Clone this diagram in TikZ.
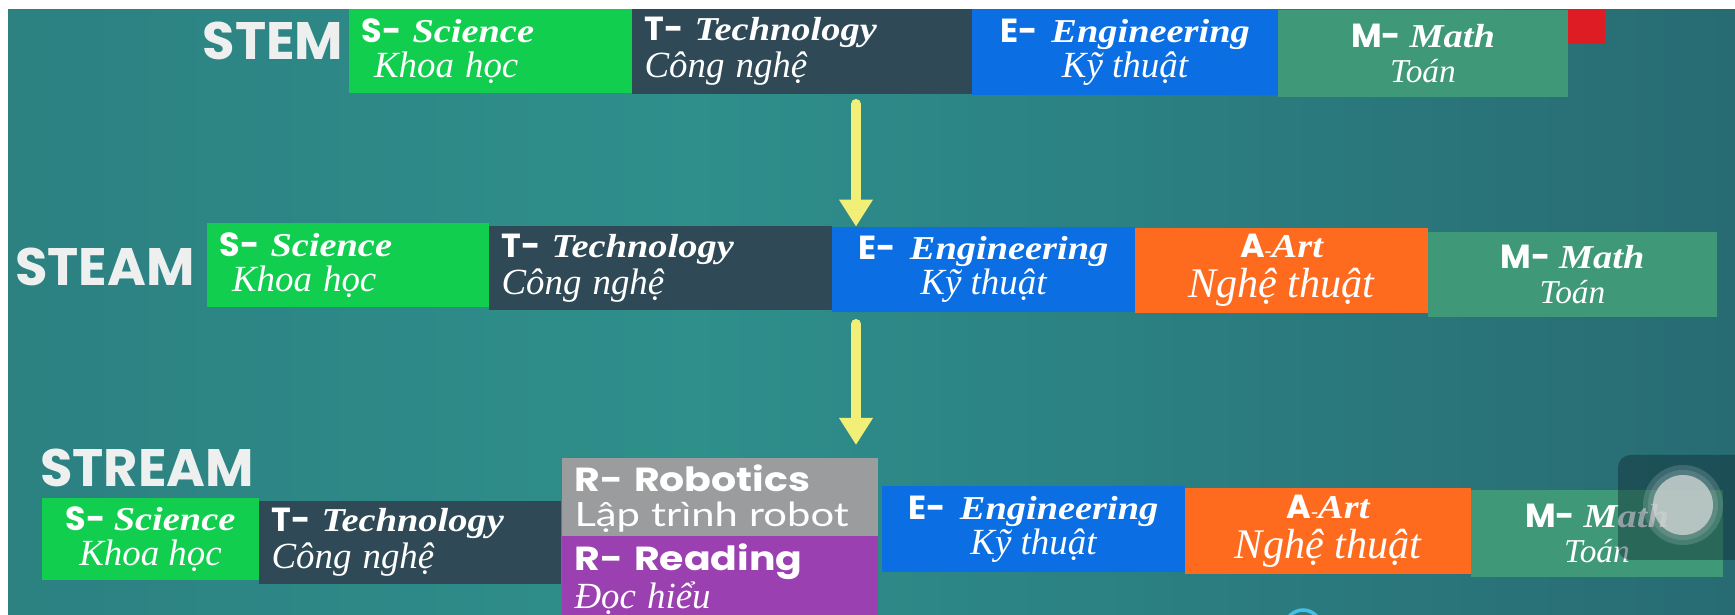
\documentclass[tikz,border=0pt]{standalone}
\usepackage{fontspec}
\setmainfont{Liberation Serif}
\newfontfamily\geofont{Poppins}
\newfontfamily\geowide[FakeStretch=1.18]{Poppins}
\newfontfamily\wordfont[FakeStretch=1.15]{Liberation Serif}
\newfontfamily\robfont[FakeStretch=1.25]{Lato}
\usetikzlibrary{arrows.meta}

\definecolor{bgleft}{HTML}{2A6E74}
\definecolor{bgmid}{HTML}{2E8F8B}
\definecolor{bgmid2}{HTML}{286B73}
\definecolor{bgright}{HTML}{1D4254}
\definecolor{scigreen}{HTML}{12CE4E}
\definecolor{techslate}{HTML}{2F4A56}
\definecolor{engblue}{HTML}{0B6FE3}
\definecolor{artorange}{HTML}{FF6B1E}
\definecolor{mathgreen}{HTML}{3F9878}
\definecolor{robotgrey}{HTML}{9B9C9D}
\definecolor{readpurple}{HTML}{9A40B0}
\definecolor{flagred}{HTML}{DD1C24}
\definecolor{flowyellow}{HTML}{F2EF78}
\definecolor{titlewhite}{HTML}{EEF0F0}
\definecolor{touchdark}{HTML}{0F2C34}
\definecolor{touchgrey}{HTML}{CBD3D0}
\definecolor{ringblue}{HTML}{45BFE6}

\pgfdeclarehorizontalshading{backdrop}{100bp}{color(0bp)=(bgleft); color(45bp)=(bgmid);
  color(75bp)=(bgmid2); color(100bp)=(bgright)}

% letter, english word, vietnamese word
\newcommand{\pfx}[1]{{\geofont\bfseries #1}}
\newcommand{\rfx}[1]{{\geowide\bfseries #1}}
\newcommand{\eword}[1]{{\wordfont\bfseries\itshape #1}}
\newcommand{\vword}[2][21]{{\fontsize{#1}{20}\selectfont\itshape #2}}

\begin{document}
\begin{tikzpicture}[
  tile/.style={rectangle, inner ysep=0pt, text=white, font=\fontsize{19}{20}\selectfont},
  lbox/.style={tile, align=left, inner xsep=.25cm},
  cbox/.style={tile, align=center, inner xsep=0pt},
  title/.style={inner sep=0pt, text=titlewhite, font=\geofont\bfseries\fontsize{30}{30}\selectfont},
  flow/.style={draw=flowyellow, line width=.2cm, line cap=round, -{Triangle[width=.64cm,length=.54cm]}}
]
\useasboundingbox (0,0) rectangle (34.7,12.3);
\shade[shading=backdrop] (0,0) rectangle (34.7,12.3);

% STEM
\node[title] (stem) at (5.46,11.48) {STEM};
\node[lbox, fill=scigreen, text width=5.16cm, minimum height=1.68cm] (stemS) at (9.81,11.28)
  {\pfx{S-} \eword{Science}\\\hspace*{.25cm}\vword{Khoa học}};
\node[lbox, fill=techslate, text width=6.30cm, minimum height=1.70cm] (stemT) at (16.04,11.27)
  {\pfx{T-} \eword{Technology}\\[1pt]\vword{Công nghệ}};
\node[cbox, fill=engblue, minimum width=6.12cm, minimum height=1.72cm] (stemE) at (22.50,11.26)
  {\pfx{E-}\, \eword{Engineering}\\\vword{Kỹ thuật}};
\fill[flagred] (30.10,11.42) rectangle (32.10,12.3);
\node[cbox, fill=mathgreen, minimum width=5.80cm, minimum height=1.74cm] (stemM) at (28.46,11.23)
  {\pfx{M-} \eword{Math}\\\vword[19]{Toán}};

% STEAM
\node[title] (steam) at (2.10,6.96) {STEAM};
\node[lbox, fill=scigreen, text width=5.14cm, minimum height=1.68cm] (steamS) at (6.96,7.00)
  {\pfx{S-} \eword{Science}\\\hspace*{.25cm}\vword{Khoa học}};
\node[lbox, fill=techslate, text width=6.36cm, minimum height=1.68cm] (steamT) at (13.21,6.94)
  {\pfx{T-} \eword{Technology}\\[1pt]\vword{Công nghệ}};
\node[cbox, fill=engblue, minimum width=6.06cm, minimum height=1.70cm] (steamE) at (19.67,6.91)
  {\pfx{E-}\, \eword{Engineering}\\\vword{Kỹ thuật}};
\node[cbox, fill=artorange, minimum width=5.86cm, minimum height=1.70cm] (steamA) at (25.63,6.89)
  {\pfx{A}{\fontsize{12}{12}\selectfont-}\eword{Art}\\[3pt]\vword[24]{Nghệ thuật}};
\node[cbox, fill=mathgreen, minimum width=5.78cm, minimum height=1.70cm] (steamM) at (31.45,6.81)
  {\pfx{M-} \eword{Math}\\\vword[19]{Toán}};

% STREAM
\node[title] (stream) at (2.94,2.94) {STREAM};
\node[cbox, fill=scigreen, minimum width=4.34cm, minimum height=1.64cm] (streamS) at (3.01,1.52)
  {\pfx{S-} \eword{Science}\\\vword{Khoa học}};
\node[lbox, fill=techslate, text width=5.54cm, minimum height=1.66cm] (streamT) at (8.20,1.45)
  {\pfx{T-} \eword{Technology}\\[1pt]\vword{Công nghệ}};
\node[lbox, fill=robotgrey, text width=5.82cm, minimum height=1.64cm] (streamRo) at (14.40,2.32)
  {\rfx{R- Robotics}\\{\robfont Lập trình robot}};
\node[lbox, fill=readpurple, text width=5.82cm, minimum height=1.70cm] (streamRe) at (14.40,0.72)
  {\rfx{R- Reading}\\\vword{Đọc hiểu}};
\node[cbox, fill=engblue, minimum width=6.06cm, minimum height=1.72cm] (streamE) at (20.67,1.72)
  {\pfx{E-}\, \eword{Engineering}\\\vword{Kỹ thuật}};
\node[cbox, fill=artorange, minimum width=5.72cm, minimum height=1.72cm] (streamA) at (26.56,1.68)
  {\pfx{A}{\fontsize{12}{12}\selectfont-}\eword{Art}\\[3pt]\vword[24]{Nghệ thuật}};
\node[cbox, fill=mathgreen, minimum width=5.04cm, minimum height=1.74cm] (streamM) at (31.94,1.63)
  {\pfx{M-} \eword{Math}\\\vword[19]{Toán}};

% arrows between the rows
\coordinate (a1) at (17.12,10.22);
\coordinate (a2) at (17.12,5.82);
\coordinate (a2e) at (17.12,3.40);
\draw[flow] (a1) -- (a1 |- steamE.north);
\draw[flow] (a2) -- (a2e);

% touch button and ring
\fill[touchdark, opacity=.45, rounded corners=.25cm] (32.36,3.2) rectangle (35.2,1.1);
\fill[white, opacity=.15] (33.66,2.2) circle (.8);
\fill[white, opacity=.12] (33.66,2.2) circle (.7);
\fill[touchgrey, opacity=.8] (33.66,2.2) circle (.6);
\draw[ringblue, line width=.07cm] (26.06,-0.26) circle (.36);

% white edge
\fill[white] (0,12.12) rectangle (34.7,12.3);
\fill[white] (0,0) rectangle (0.16,12.3);
\end{tikzpicture}
\end{document}
